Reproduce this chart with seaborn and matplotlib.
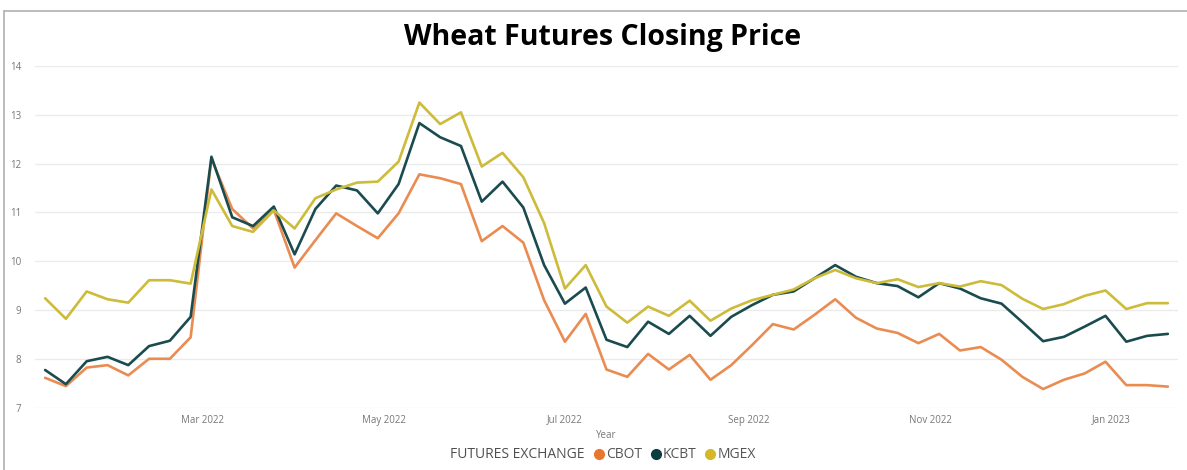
import matplotlib

matplotlib.use("Agg")
import matplotlib.dates as mdates
import matplotlib.pyplot as plt
import pandas as pd
import seaborn as sns
from matplotlib.lines import Line2D

# weekly Friday closes, Jan 7 2022 .. Jan 20 2023
weeks = pd.date_range("2022-01-07", periods=55, freq="7D")

cbot = [7.61, 7.44, 7.82, 7.87, 7.66, 8.00, 8.00, 8.44, 12.10, 11.07,
        10.67, 11.05, 9.87, 10.43, 10.98, 10.72, 10.47, 10.98, 11.78, 11.70,
        11.58, 10.41, 10.72, 10.38, 9.20, 8.35, 8.92, 7.78, 7.63, 8.10,
        7.78, 8.08, 7.57, 7.87, 8.28, 8.71, 8.60, 8.90, 9.22, 8.84,
        8.62, 8.53, 8.32, 8.51, 8.17, 8.24, 7.98, 7.63, 7.38, 7.57,
        7.70, 7.94, 7.46, 7.46, 7.43]
kcbt = [7.77, 7.48, 7.95, 8.04, 7.87, 8.26, 8.37, 8.86, 12.14, 10.90,
        10.72, 11.12, 10.14, 11.07, 11.55, 11.45, 10.98, 11.58, 12.83, 12.54,
        12.36, 11.22, 11.63, 11.10, 9.92, 9.13, 9.46, 8.39, 8.24, 8.76,
        8.51, 8.88, 8.47, 8.86, 9.10, 9.31, 9.38, 9.65, 9.92, 9.68,
        9.55, 9.49, 9.26, 9.55, 9.44, 9.24, 9.13, 8.75, 8.36, 8.45,
        8.66, 8.88, 8.35, 8.47, 8.51]
mgex = [9.24, 8.82, 9.38, 9.22, 9.15, 9.61, 9.61, 9.54, 11.47, 10.72,
        10.60, 11.04, 10.67, 11.29, 11.47, 11.61, 11.63, 12.04, 13.25, 12.81,
        13.05, 11.94, 12.22, 11.72, 10.78, 9.44, 9.92, 9.07, 8.74, 9.07,
        8.88, 9.19, 8.78, 9.03, 9.20, 9.31, 9.42, 9.65, 9.82, 9.65,
        9.55, 9.63, 9.47, 9.55, 9.48, 9.59, 9.51, 9.23, 9.02, 9.12,
        9.29, 9.40, 9.02, 9.14, 9.14]

exchanges = ["CBOT", "KCBT", "MGEX"]
colors = {"CBOT": "#EA8C52", "KCBT": "#1A4B4E", "MGEX": "#CDBB3A"}
dot_colors = {"CBOT": "#E8772E", "KCBT": "#0B3D3E", "MGEX": "#D4B82A"}

df = pd.DataFrame({
    "Year": list(weeks) * 3,
    "Price": cbot + kcbt + mgex,
    "Exchange": [e for e in exchanges for _ in range(len(weeks))],
})

sns.set_theme(style="white")
plt.rcParams["font.family"] = ["Open Sans", "DejaVu Sans"]

fig = plt.figure(figsize=(11.87, 4.70), dpi=100)
ax = fig.add_axes([0.0295, 0.1328, 0.9629, 0.7268])

sns.lineplot(data=df, x="Year", y="Price", hue="Exchange", palette=colors,
             linewidth=1.9, ax=ax, legend=False)

pad = pd.Timedelta(days=3.4)
ax.set_xlim(weeks[0] - pad, weeks[-1] + pad)
ax.set_ylim(7, 14)
ax.set_yticks(range(7, 15))

ax.xaxis.set_major_locator(mdates.MonthLocator(bymonth=[1, 3, 5, 7, 9, 11]))
ax.xaxis.set_major_formatter(mdates.DateFormatter("%b %Y"))

ax.grid(axis="y", color="#ebebeb", linewidth=1.0)
ax.grid(axis="x", visible=False)
for s in ax.spines.values():
    s.set_visible(False)
ax.tick_params(axis="both", length=0, labelsize=7, labelcolor="#777777")
ax.tick_params(axis="y", pad=10)
ax.tick_params(axis="x", pad=5)
ax.set_xlabel("Year", fontsize=7, color="#777777", labelpad=3)
ax.set_ylabel("")

fig.suptitle("Wheat Futures Closing Price", x=0.508, y=0.952, fontsize=20.5,
             fontweight="bold", color="black")

# legend row
fig.text(0.4925, 0.032, "FUTURES EXCHANGE", ha="right", va="center",
         fontsize=10, color="#4f4f4f")
handles = [Line2D([], [], linestyle="none", marker="o", markersize=7,
                  color=dot_colors[e]) for e in exchanges]
fig.legend(handles, exchanges, loc="center left", bbox_to_anchor=(0.493, 0.032),
           ncol=3, frameon=False, fontsize=10, handletextpad=0.0,
           columnspacing=0.5, handlelength=1.0, borderpad=0, labelcolor="#555555")

# screenshot frame
fig.add_artist(Line2D([0.0034, 1.0], [0.976, 0.976], transform=fig.transFigure,
                      color="#b0b0b0", linewidth=1.2))
fig.add_artist(Line2D([0.0034, 0.0034], [0.0, 0.976], transform=fig.transFigure,
                      color="#b0b0b0", linewidth=1.2))

fig.savefig("out.png", dpi=100)
